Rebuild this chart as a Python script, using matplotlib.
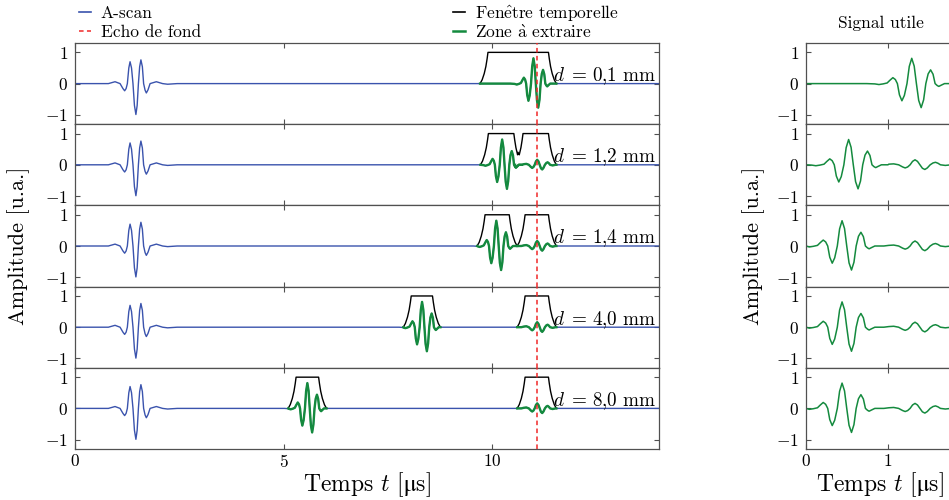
import numpy as np
import matplotlib
matplotlib.use('Agg')
from matplotlib import pyplot as plt
from matplotlib.lines import Line2D

plt.rcParams['font.family'] = ['cmr10', 'DejaVu Serif']
plt.rcParams['mathtext.fontset'] = 'cm'
plt.rcParams['axes.unicode_minus'] = False

# --- values ---
distances = ['0{,}1', '1{,}2', '1{,}4', '4{,}0', '8{,}0']
echo_fond = 11.07          # back-wall echo time [us]
t_max = 14.0
utile_max = 1.83

# front-wall echo (same on every A-scan)
front_t = [0.0, 0.80, 0.96, 1.08, 1.15, 1.19, 1.225, 1.255, 1.29, 1.32, 1.355, 1.39, 1.425,
           1.46, 1.49, 1.52, 1.55, 1.58, 1.615, 1.645, 1.68, 1.71, 1.75, 1.80, 1.95, 2.10, 2.22, 2.45]
front_a = [0.0, 0.0, 0.06, 0.0, -0.16, -0.23, -0.16, 0.0, 0.50, 0.70, 0.50, 0.0, -0.70,
           -0.99, -0.70, 0.0, 0.54, 0.76, 0.54, 0.0, -0.21, -0.30, -0.20, 0.0, 0.06, 0.0, -0.02, 0.0]

# defect echo, time relative to its main peak
pulse_dt = [-0.55, -0.45, -0.40, -0.35, -0.30, -0.265, -0.23, -0.20, -0.175, -0.15, -0.12, -0.09,
            -0.058, -0.03, 0.0, 0.03, 0.057, 0.085, 0.115, 0.145, 0.172, 0.20, 0.23, 0.26,
            0.285, 0.31, 0.33, 0.36, 0.40, 0.48]
pulse_a = [0.0, -0.01, -0.03, -0.01, 0.02, 0.11, 0.19, 0.13, 0.0, -0.36, -0.55, -0.38,
           0.0, 0.55, 0.81, 0.56, 0.0, -0.54, -0.77, -0.52, 0.0, 0.31, 0.44, 0.30,
           0.0, -0.06, -0.09, -0.05, 0.0, 0.0]

# residual back-wall echo (rows 2-5)
back_t = [10.70, 10.76, 10.82, 10.88, 10.93, 10.96, 10.99, 11.02, 11.05, 11.08, 11.11, 11.14,
          11.17, 11.20, 11.23, 11.265, 11.30, 11.33, 11.36, 11.39, 11.45, 11.52]
back_a = [0.0, 0.02, 0.03, 0.0, -0.07, -0.10, -0.07, 0.0, 0.11, 0.16, 0.11, 0.0,
          -0.11, -0.15, -0.10, 0.0, 0.06, 0.08, 0.05, 0.0, -0.02, 0.0]

defect_peak = [10.99, 10.24, 10.10, 8.32, 5.57]
has_back = [False, True, True, True, True]

windows = [[(9.71, 11.54)],
           [(9.72, 10.71), (10.55, 11.54)],
           [(9.64, 10.60), (10.60, 11.54)],
           [(7.87, 8.76), (10.60, 11.54)],
           [(5.11, 6.03), (10.60, 11.54)]]
window_dip = [None, (10.62, 0.40), None, None, None]

taper_dt = [0.0, 0.05, 0.10, 0.14, 0.17, 0.19]
taper_v = [0.0, 0.12, 0.32, 0.55, 0.80, 1.0]

# extracted useful signal (right column)
utile_peak = [1.29, 0.52, 0.44, 0.44, 0.44]
utile_back_shift = 9.75

time_ticks = [0, 5, 10]
utile_ticks = [0, 1]
amp_ticks = [-1, 0, 1]
amp_tick_labels = [r'$-1$', r'$0$', r'$1$']

legend_left = ['A-scan', 'Echo de fond']
legend_right = [r'Fen$\hat{\mathrm{e}}$tre temporelle', r'Zone $\grave{\mathrm{a}}$ extraire']

blue = '#3a53ad'
green = '#148a3e'
red = '#f02828'
spine_col = '#505050'


def ascan(i):
    t = [0.0] + front_t + [defect_peak[i] + d for d in pulse_dt]
    a = [0.0] + front_a + list(pulse_a)
    if has_back[i]:
        t += back_t
        a += back_a
    t += [t_max]
    a += [0.0]
    order = np.argsort(t, kind='stable')
    return np.array(t)[order], np.array(a)[order]


def window_points(start, end):
    t = [start + d for d in taper_dt] + [end - d for d in taper_dt[::-1]]
    v = list(taper_v) + list(taper_v[::-1])
    return np.array(t), np.array(v)


def utile(i):
    t = [0.0] + [utile_peak[i] + d for d in pulse_dt]
    a = [0.0] + list(pulse_a)
    if has_back[i]:
        t += [x - utile_back_shift for x in back_t]
        a += back_a
    t += [utile_max]
    a += [0.0]
    order = np.argsort(t, kind='stable')
    return np.array(t)[order], np.array(a)[order]


def style_axes(ax):
    for s in ax.spines.values():
        s.set_color(spine_col)
        s.set_linewidth(0.9)
    ax.tick_params(direction='in', top=True, right=True, length=3.5, width=0.8,
                   color=spine_col, labelsize=12.5, pad=5)
    ax.tick_params(axis='x', pad=3)
    ax.set_ylim(-1.3, 1.3)
    ax.set_yticks(amp_ticks, labels=amp_tick_labels)


fig = plt.figure(figsize=(9.49, 5.0), dpi=100)
W, H = 949.0, 500.0
row_top, row_h = 43.0, 81.2

left_axes, right_axes = [], []
for i in range(5):
    y0 = 1 - (row_top + (i + 1) * row_h) / H
    axl = fig.add_axes([75 / W, y0, 584 / W, row_h / H])
    axr = fig.add_axes([806 / W, y0, 150 / W, row_h / H])
    left_axes.append(axl)
    right_axes.append(axr)

    t, a = ascan(i)
    axl.plot(t, a, color=blue, lw=1.0, zorder=2)

    # time windows
    if window_dip[i] is not None:
        t1, v1 = window_points(*windows[i][0])
        t2, v2 = window_points(*windows[i][1])
        dt_, dv_ = window_dip[i]
        wt = np.concatenate([t1[t1 < dt_], [dt_], t2[t2 > dt_]])
        wv = np.concatenate([v1[t1 < dt_], [dv_], v2[t2 > dt_]])
        axl.plot(wt, wv, color='black', lw=1.0, zorder=3)
    else:
        for (s, e) in windows[i]:
            wt, wv = window_points(s, e)
            axl.plot(wt, wv, color='black', lw=1.0, zorder=3)

    # extracted zones
    for (s, e) in windows[i]:
        m = (t >= s) & (t <= e)
        gt = np.concatenate([[s], t[m], [e]])
        ga = np.concatenate([[0.0], a[m], [0.0]])
        axl.plot(gt, ga, color=green, lw=1.7, zorder=4)

    axl.axvline(echo_fond, color=red, lw=1.1, ls=(0, (3, 2.2)), zorder=5)
    axl.text(13.93, 0.08, r'$d\;=\,%s\ \mathrm{mm}$' % distances[i], ha='right',
             va='baseline', fontsize=13.8, zorder=6)
    axl.set_xlim(0, t_max)
    axl.set_xticks(time_ticks)
    style_axes(axl)

    ut, ua = utile(i)
    axr.plot(ut, ua, color=green, lw=1.1)
    axr.set_xlim(0, utile_max)
    axr.set_xticks(utile_ticks)
    style_axes(axr)

    if i < 4:
        axl.tick_params(labelbottom=False)
        axr.tick_params(labelbottom=False)

left_axes[-1].set_xticks(time_ticks, labels=[r'$%d$' % v for v in time_ticks])
right_axes[-1].set_xticks(utile_ticks, labels=[r'$%d$' % v for v in utile_ticks])

right_axes[0].set_title('Signal utile', fontsize=12.5, pad=11)

xlab = 'Temps $t$ [$\\mathrm{\u03bc}$s]'
fig.text(19 / W, 0.508, 'Amplitude [u.a.]', rotation=90, ha='center', va='center', fontsize=16)
fig.text(754 / W, 0.508, 'Amplitude [u.a.]', rotation=90, ha='center', va='center', fontsize=16)
fig.text(367 / W, 1 - 491 / H, xlab, ha='center', va='baseline', fontsize=17)
fig.text(880 / W, 1 - 491 / H, xlab, ha='center', va='baseline', fontsize=17)

h1 = [Line2D([], [], color=blue, lw=1.2), Line2D([], [], color=red, lw=1.1, ls=(0, (3, 2.2)))]
h2 = [Line2D([], [], color='black', lw=1.2), Line2D([], [], color=green, lw=1.8)]
leg_kw = dict(loc='upper left', frameon=False, fontsize=12.5, handlelength=0.7,
              handletextpad=0.55, borderaxespad=0, borderpad=0)
fig.legend(h1, legend_left, bbox_to_anchor=(79 / W, 1 - 6 / H), labelspacing=0.2, **leg_kw)
fig.legend(h2, legend_right, bbox_to_anchor=(453 / W, 1 - 3 / H), labelspacing=0.0, **leg_kw)

fig.savefig('out.png', dpi=100)
